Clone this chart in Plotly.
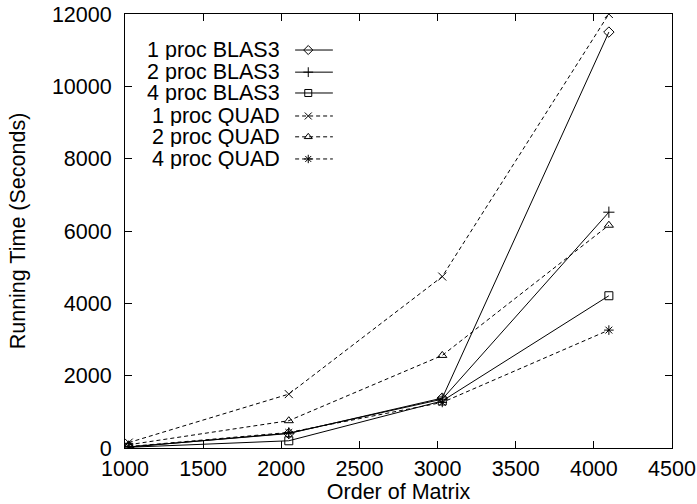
import plotly.graph_objects as go

# ---- data ----
matrix_order = [1024, 2048, 3030, 4096]
blas3_1proc = [30, 400, 1380, 11500]
blas3_2proc = [25, 410, 1350, 6520]
blas3_4proc = [20, 200, 1300, 4210]
quad_1proc = [150, 1490, 4740, 12000]
quad_2proc = [90, 755, 2560, 6160]
quad_4proc = [40, 430, 1260, 3260]

series_names = ["1 proc BLAS3", "2 proc BLAS3", "4 proc BLAS3",
                "1 proc QUAD", "2 proc QUAD", "4 proc QUAD"]
series_values = [blas3_1proc, blas3_2proc, blas3_4proc,
                 quad_1proc, quad_2proc, quad_4proc]
symbols = ["diamond-open", "cross-thin-open", "square-open",
           "x-thin-open", "triangle-up-open", "asterisk-open"]
dashes = ["solid", "solid", "solid", "4px,3px", "4px,3px", "4px,3px"]

x_ticks = [1000, 1500, 2000, 2500, 3000, 3500, 4000, 4500]
y_ticks = [0, 2000, 4000, 6000, 8000, 10000, 12000]

FONT = "Liberation Sans, Arial, Helvetica, sans-serif"
FS = 21.5

fig = go.Figure()
for name, vals, sym, dash in zip(series_names, series_values, symbols, dashes):
    fig.add_trace(go.Scatter(
        x=matrix_order, y=vals, mode="lines+markers", name=name,
        line=dict(color="black", width=1, dash=dash),
        marker=dict(symbol=sym, size=8, color="black",
                    line=dict(color="black", width=1)),
        showlegend=False,
    ))

# ---- manual gnuplot-style legend ----
leg_y = [0.917, 0.866, 0.818, 0.765, 0.717, 0.666]
for name, yy, sym, dash in zip(series_names, leg_y, symbols, dashes):
    fig.add_annotation(x=0.287, y=yy, xref="paper", yref="paper",
                       text=name, showarrow=False, xanchor="right",
                       yanchor="middle", height=20, valign="middle",
                       font=dict(size=FS, color="black", family=FONT))
    fig.add_shape(type="line", xref="paper", yref="paper",
                  x0=0.311, x1=0.380, y0=yy, y1=yy,
                  line=dict(color="black", width=1, dash=dash))
    fig.add_trace(go.Scatter(
        x=[0.335], y=[yy], xaxis="x2", yaxis="y2", mode="markers",
        marker=dict(symbol=sym, size=7, color="black",
                    line=dict(color="black", width=1)),
        showlegend=False, hoverinfo="skip",
    ))

axis_common = dict(
    showline=True, linecolor="black", linewidth=1, mirror="allticks",
    ticks="inside", ticklen=7, tickcolor="black", tickwidth=1,
    showgrid=False, zeroline=False, automargin=False,
    tickfont=dict(size=FS, color="black", family=FONT),
)

fig.update_layout(
    width=697, height=504,
    margin=dict(l=125, r=25, t=14, b=56),
    paper_bgcolor="white", plot_bgcolor="white",
    font=dict(family=FONT, color="black", size=FS),
    xaxis=dict(range=[1000, 4500], tickvals=x_ticks,
               ticktext=[str(v) for v in x_ticks],
               title=dict(text="Order of Matrix", font=dict(size=FS), standoff=1),
               ticklabelstandoff=1,
               **axis_common),
    yaxis=dict(range=[0, 12000], tickvals=y_ticks,
               ticktext=[str(v) for v in y_ticks],
               title=dict(text="Running Time (Seconds)", font=dict(size=FS), standoff=20),
               ticklabelstandoff=8,
               **axis_common),
    xaxis2=dict(range=[0, 1], overlaying="x", visible=False),
    yaxis2=dict(range=[0, 1], overlaying="y", visible=False),
    showlegend=False,
)

fig.write_html("out.html")
